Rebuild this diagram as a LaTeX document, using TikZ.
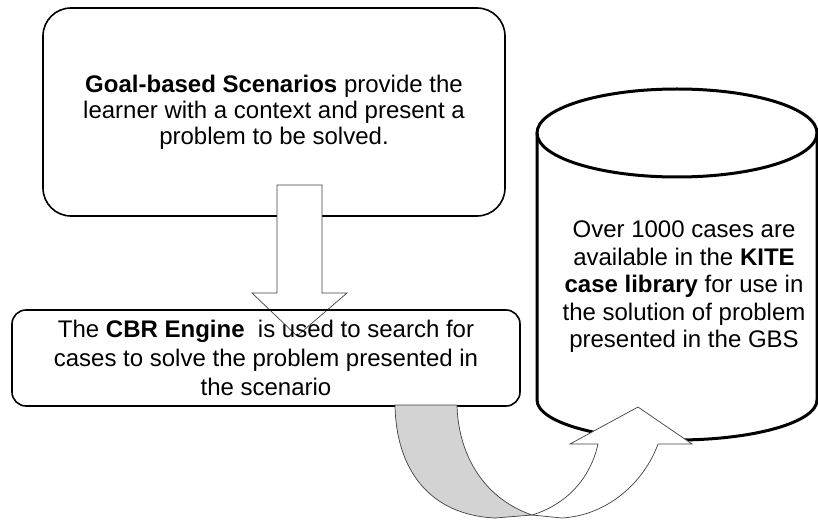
\documentclass[tikz,border=0pt]{standalone}
\usepackage{fontspec}
\setmainfont{Liberation Sans}
\usetikzlibrary{positioning}
\definecolor{bandgray}{RGB}{211,211,211}

\begin{document}
\begin{tikzpicture}[x=1pt,y=-1pt,
	box/.style={draw,line width=1.6pt,rounded corners=#1},
	txt/.style={align=center,inner sep=0pt},
	blk/.style={draw=black!75,line width=0.7pt,fill=white}]
	\useasboundingbox (0,0) rectangle (818,521);
	\node[box=28pt,minimum width=462pt,minimum height=208pt,txt,
		font=\fontsize{24}{26}\selectfont] (gbs) at (274,112)
		{\textbf{Goal-based Scenarios} provide the\\ learner with a context and present a\\ problem to be solved.};
	% the case library
	\draw[line width=3pt,fill=white] (537,133) -- (537,400)
		arc[start angle=180,end angle=0,x radius=140,y radius=40] -- (817,133);
	\draw[line width=3pt] (677,133) ellipse[x radius=140,y radius=44];
	\node[txt,font=\fontsize{24}{27.5}\selectfont] (kite) at (684,287)
		{Over 1000 cases are\\ available in the \textbf{KITE}\\ \textbf{case library} for use in\\ the solution of problem\\ presented in the GBS};
	% down arrow
	\draw[blk] (277,185) -- (322,185) -- (322,293) -- (347,293) -- (297,336)
		-- (252,293) -- (277,293) -- cycle;
	\node[box=14pt,minimum width=508pt,minimum height=96pt,txt,
		font=\fontsize{24}{29}\selectfont] (cbr) at (266,358)
		{The \textbf{CBR Engine}\ \ is used to search for\\ cases to solve the problem presented in\\ the scenario};
	% curved arrow back into the library
	\draw[draw=black!75,line width=0.7pt,fill=bandgray] (395,405)
		.. controls (396,470) and (430,515) .. (495,518) -- (532,515)
		.. controls (480,497) and (458,450) .. (457,405) -- cycle;
	\draw[blk] (532,515) -- (562,518) .. controls (610,515) and (645,480) .. (658,444)
		-- (692,444) -- (638,407) -- (570,444) -- (598,444)
		.. controls (590,480) and (565,505) .. (532,515) -- cycle;
\end{tikzpicture}
\end{document}
